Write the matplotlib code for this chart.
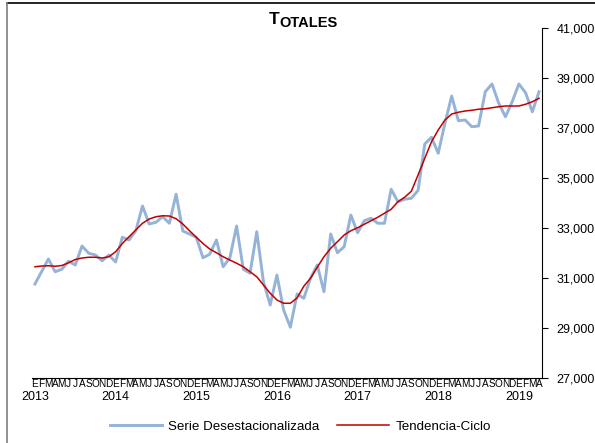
import matplotlib
matplotlib.use("Agg")
import matplotlib.pyplot as plt
from matplotlib.lines import Line2D
from matplotlib.ticker import FuncFormatter
import matplotlib.transforms as mtransforms

plt.rcParams['font.family'] = ['Liberation Sans', 'DejaVu Sans']

# monthly series, Jan 2013 .. Apr 2019
month_letters = ["E", "F", "M", "A", "M", "J", "J", "A", "S", "O", "N", "D"]
years = [2013, 2014, 2015, 2016, 2017, 2018, 2019]

serie_desest = [
    30760, 31260, 31760, 31250, 31350, 31670, 31520, 32280, 31990, 31920, 31690, 31920,
    31640, 32630, 32520, 32880, 33880, 33160, 33230, 33450, 33190, 34350, 32880, 32760,
    32630, 31810, 31950, 32520, 31450, 31810, 33080, 31350, 31190, 32850, 30850, 29920,
    31120, 29720, 29030, 30360, 30190, 30990, 31520, 30450, 32760, 32010, 32250, 33520,
    32810, 33290, 33390, 33190, 33190, 34550, 34050, 34150, 34190, 34500, 36360, 36630,
    35990, 37190, 38280, 37290, 37320, 37050, 37080, 38450, 38760, 37990, 37450, 38050,
    38760, 38410, 37650, 38450,
]

tendencia = [
    31450, 31480, 31490, 31470, 31500, 31610, 31740, 31800, 31830, 31830, 31800, 31850,
    32050, 32380, 32650, 32920, 33190, 33360, 33450, 33490, 33480, 33370, 33160, 32890,
    32630, 32380, 32160, 32010, 31850, 31720, 31590, 31450, 31250, 31050, 30720, 30390,
    30120, 29990, 29990, 30200, 30670, 30990, 31430, 31850, 32190, 32450, 32720, 32890,
    33010, 33150, 33290, 33430, 33590, 33750, 34050, 34230, 34470, 35120, 35790, 36450,
    36920, 37320, 37560, 37630, 37680, 37710, 37750, 37770, 37810, 37850, 37880, 37880,
    37880, 37950, 38050, 38190,
]

n = len(serie_desest)
x = list(range(n))
tick_labels = [month_letters[i % 12] for i in x]

fig = plt.figure(figsize=(5.95, 4.43), dpi=100)
ax = fig.add_axes([0.0531, 0.1467, 0.8585, 0.7901])

ax.plot(x, serie_desest, color="#95B3D7", lw=2.1, solid_joinstyle="round",
        label="Serie Desestacionalizada")
ax.plot(x, tendencia, color="#C00000", lw=1.1, label="Tendencia-Ciclo")

ax.set_xlim(-0.5, n - 0.5)
ax.set_ylim(27000, 41000)
ax.set_yticks(range(27000, 41001, 2000))
ax.yaxis.tick_right()
ax.yaxis.set_major_formatter(FuncFormatter(lambda v, p: "{:,.0f}".format(v)))
ax.tick_params(axis="y", direction="out", length=4, width=0.8, pad=6, labelsize=9)

ax.set_xticks(x)
ax.set_xticklabels(tick_labels, fontsize=7.2)
ax.tick_params(axis="x", length=0, pad=0.5)

for s in ["top", "left"]:
    ax.spines[s].set_visible(False)
ax.spines["bottom"].set_linewidth(0.8)
ax.spines["right"].set_linewidth(0.8)

trans = mtransforms.blended_transform_factory(ax.transData, ax.transAxes)
for k, yr in enumerate(years):
    ax.text(k * 12, -0.055, str(yr), transform=trans, ha="center", va="center", fontsize=9)

# title with small-caps look
t = fig.text(0.451, 0.946, "T", fontsize=12.5, fontweight="bold", ha="left", va="baseline")
ax.annotate("OTALES", xy=(1, 0), xycoords=t, fontsize=10.5, fontweight="bold",
            ha="left", va="baseline")

fig.legend(loc="center", bbox_to_anchor=(0.505, 0.037), ncol=2, frameon=False,
           fontsize=9.6, handlelength=3.9, handletextpad=0.45, columnspacing=1.35)

# outer frame fragments
fig.add_artist(Line2D([7 / 595, 1], [1 - 3 / 443, 1 - 3 / 443], color="black", lw=1.2))
fig.add_artist(Line2D([7 / 595, 7 / 595], [0, 1 - 3 / 443], color="#7f7f7f", lw=1.2))

fig.savefig("out.png", dpi=100)
